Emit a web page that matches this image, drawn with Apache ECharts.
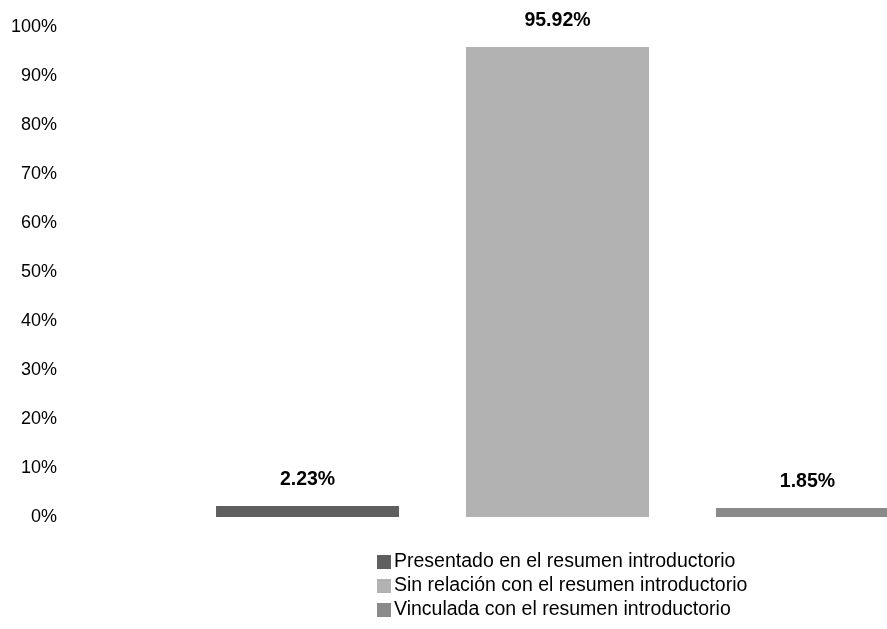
<!DOCTYPE html>
<html>
<head>
<meta charset="utf-8">
<script src="https://cdn.jsdelivr.net/npm/echarts@6/dist/echarts.min.js"></script>
<style>html,body{margin:0;padding:0;background:#fff}#c{width:887px;height:629px}</style>
</head>
<body>
<div id="c"></div>
<script>
const categories = [''];
const seriesNames = ['Presentado en el resumen introductorio', 'Sin relación con el resumen introductorio', 'Vinculada con el resumen introductorio'];
const seriesValues = [[2.23], [95.92], [1.85]];
const colors = ['#5f5f5f', '#b2b2b2', '#8a8a8a'];
const yTicks = [0, 10, 20, 30, 40, 50, 60, 70, 80, 90, 100];

const FONT = '"Liberation Sans", Arial, sans-serif';
const chart = echarts.init(document.getElementById('c'));
chart.setOption({
  animation: false,
  textStyle: { fontFamily: FONT },
  grid: { left: 70, width: 975, top: 27, height: 490, containLabel: false, outerBoundsMode: 'none' },
  legend: {
    orient: 'vertical', left: 372, top: 547,
    itemWidth: 14, itemHeight: 14, itemGap: 4,
    icon: 'rect',
    textStyle: { fontSize: 19.5, color: '#000', fontFamily: FONT, padding: [0, 0, 0, -2] },
    data: seriesNames
  },
  xAxis: {
    type: 'category', data: categories,
    axisLine: { show: false }, axisTick: { show: false }, axisLabel: { show: false }
  },
  yAxis: {
    type: 'value', min: yTicks[0], max: yTicks[yTicks.length - 1], interval: 10,
    axisLine: { show: false }, axisTick: { show: false }, splitLine: { show: false },
    axisLabel: { formatter: '{value}%', fontSize: 18, color: '#000', margin: 13, fontFamily: FONT }
  },
  series: seriesNames.map((n, i) => ({
    name: n, type: 'bar', data: seriesValues[i],
    barWidth: 183, barGap: '36.6%',
    itemStyle: { color: colors[i] },
    label: {
      show: true, position: 'top', distance: 16,
      formatter: p => p.value.toFixed(2) + '%',
      fontSize: 19.5, fontWeight: 'bold', color: '#000', fontFamily: FONT
    }
  }))
});
</script>
</body>
</html>
